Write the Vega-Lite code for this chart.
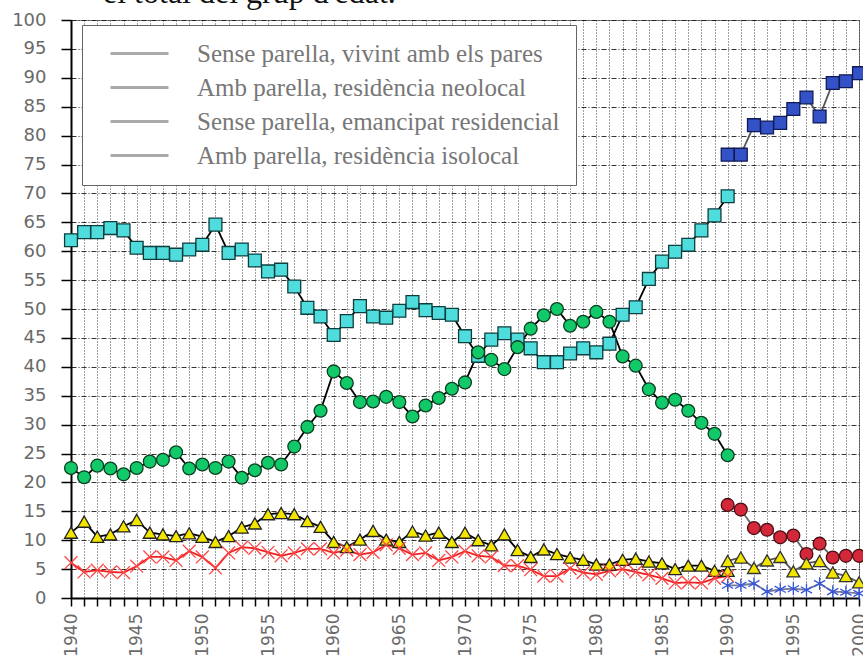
{
  "$schema": "https://vega.github.io/schema/vega-lite/v6.json",
  "width": 788,
  "height": 578,
  "autosize": {"type": "none"},
  "padding": {"left": 71, "top": 20, "right": 4, "bottom": 66},
  "background": "white",
  "title": {"text": "el total del grup d'edat.", "anchor": "start", "frame": "group", "dx": 32, "font": "Liberation Serif", "fontSize": 32, "fontWeight": "normal", "color": "#111", "baseline": "alphabetic", "offset": -24},
  "datasets": {
    "keys": [
      {"k": "A1", "s": "Sense parella, vivint amb els pares"},
      {"k": "A2", "s": "Sense parella, vivint amb els pares"},
      {"k": "B1", "s": "Amb parella, residència neolocal"},
      {"k": "B2", "s": "Amb parella, residència neolocal"},
      {"k": "C1", "s": "Sense parella, emancipat residencial"},
      {"k": "C2", "s": "Sense parella, emancipat residencial"},
      {"k": "D1", "s": "Amb parella, residència isolocal"},
      {"k": "D2", "s": "Amb parella, residència isolocal"}
    ],
    "pts": [
      {"k":"A1","y":1940,"v":61.9},{"k":"A1","y":1941,"v":63.3},{"k":"A1","y":1942,"v":63.3},{"k":"A1","y":1943,"v":64.0},{"k":"A1","y":1944,"v":63.6},
      {"k":"A1","y":1945,"v":60.6},{"k":"A1","y":1946,"v":59.7},{"k":"A1","y":1947,"v":59.7},{"k":"A1","y":1948,"v":59.4},{"k":"A1","y":1949,"v":60.3},
      {"k":"A1","y":1950,"v":61.1},{"k":"A1","y":1951,"v":64.6},{"k":"A1","y":1952,"v":59.7},{"k":"A1","y":1953,"v":60.3},{"k":"A1","y":1954,"v":58.4},
      {"k":"A1","y":1955,"v":56.5},{"k":"A1","y":1956,"v":56.8},{"k":"A1","y":1957,"v":53.9},{"k":"A1","y":1958,"v":50.2},{"k":"A1","y":1959,"v":48.7},
      {"k":"A1","y":1960,"v":45.5},{"k":"A1","y":1961,"v":47.9},{"k":"A1","y":1962,"v":50.5},{"k":"A1","y":1963,"v":48.7},{"k":"A1","y":1964,"v":48.5},
      {"k":"A1","y":1965,"v":49.7},{"k":"A1","y":1966,"v":51.2},{"k":"A1","y":1967,"v":49.8},{"k":"A1","y":1968,"v":49.3},{"k":"A1","y":1969,"v":49.0},
      {"k":"A1","y":1970,"v":45.3},{"k":"A1","y":1971,"v":41.9},{"k":"A1","y":1972,"v":44.7},{"k":"A1","y":1973,"v":45.8},{"k":"A1","y":1974,"v":44.7},
      {"k":"A1","y":1975,"v":43.2},{"k":"A1","y":1976,"v":40.8},{"k":"A1","y":1977,"v":40.8},{"k":"A1","y":1978,"v":42.3},{"k":"A1","y":1979,"v":43.2},
      {"k":"A1","y":1980,"v":42.5},{"k":"A1","y":1981,"v":44.0},{"k":"A1","y":1982,"v":49.0},{"k":"A1","y":1983,"v":50.3},{"k":"A1","y":1984,"v":55.2},
      {"k":"A1","y":1985,"v":58.2},{"k":"A1","y":1986,"v":59.9},{"k":"A1","y":1987,"v":61.1},{"k":"A1","y":1988,"v":63.6},{"k":"A1","y":1989,"v":66.2},
      {"k":"A1","y":1990,"v":69.5},
      {"k":"A2","y":1990,"v":76.7},{"k":"A2","y":1991,"v":76.7},{"k":"A2","y":1992,"v":81.8},{"k":"A2","y":1993,"v":81.4},{"k":"A2","y":1994,"v":82.2},
      {"k":"A2","y":1995,"v":84.6},{"k":"A2","y":1996,"v":86.6},{"k":"A2","y":1997,"v":83.3},{"k":"A2","y":1998,"v":89.1},{"k":"A2","y":1999,"v":89.4},
      {"k":"A2","y":2000,"v":90.8},
      {"k":"B1","y":1940,"v":22.5},{"k":"B1","y":1941,"v":20.9},{"k":"B1","y":1942,"v":22.9},{"k":"B1","y":1943,"v":22.4},{"k":"B1","y":1944,"v":21.4},
      {"k":"B1","y":1945,"v":22.5},{"k":"B1","y":1946,"v":23.6},{"k":"B1","y":1947,"v":23.9},{"k":"B1","y":1948,"v":25.2},{"k":"B1","y":1949,"v":22.4},
      {"k":"B1","y":1950,"v":23.1},{"k":"B1","y":1951,"v":22.5},{"k":"B1","y":1952,"v":23.6},{"k":"B1","y":1953,"v":20.8},{"k":"B1","y":1954,"v":22.1},
      {"k":"B1","y":1955,"v":23.4},{"k":"B1","y":1956,"v":23.1},{"k":"B1","y":1957,"v":26.2},{"k":"B1","y":1958,"v":29.6},{"k":"B1","y":1959,"v":32.4},
      {"k":"B1","y":1960,"v":39.2},{"k":"B1","y":1961,"v":37.2},{"k":"B1","y":1962,"v":33.9},{"k":"B1","y":1963,"v":34.0},{"k":"B1","y":1964,"v":34.8},
      {"k":"B1","y":1965,"v":33.9},{"k":"B1","y":1966,"v":31.4},{"k":"B1","y":1967,"v":33.3},{"k":"B1","y":1968,"v":34.6},{"k":"B1","y":1969,"v":36.2},
      {"k":"B1","y":1970,"v":37.3},{"k":"B1","y":1971,"v":42.5},{"k":"B1","y":1972,"v":41.2},{"k":"B1","y":1973,"v":39.6},{"k":"B1","y":1974,"v":43.4},
      {"k":"B1","y":1975,"v":46.6},{"k":"B1","y":1976,"v":48.9},{"k":"B1","y":1977,"v":50.0},{"k":"B1","y":1978,"v":47.1},{"k":"B1","y":1979,"v":47.8},
      {"k":"B1","y":1980,"v":49.5},{"k":"B1","y":1981,"v":47.8},{"k":"B1","y":1982,"v":41.8},{"k":"B1","y":1983,"v":40.2},{"k":"B1","y":1984,"v":36.1},
      {"k":"B1","y":1985,"v":33.8},{"k":"B1","y":1986,"v":34.3},{"k":"B1","y":1987,"v":32.4},{"k":"B1","y":1988,"v":30.3},{"k":"B1","y":1989,"v":28.4},
      {"k":"B1","y":1990,"v":24.7},
      {"k":"B2","y":1990,"v":16.1},{"k":"B2","y":1991,"v":15.3},{"k":"B2","y":1992,"v":12.1},{"k":"B2","y":1993,"v":11.8},{"k":"B2","y":1994,"v":10.5},
      {"k":"B2","y":1995,"v":10.8},{"k":"B2","y":1996,"v":7.6},{"k":"B2","y":1997,"v":9.4},{"k":"B2","y":1998,"v":7.0},{"k":"B2","y":1999,"v":7.3},
      {"k":"B2","y":2000,"v":7.3},
      {"k":"C1","y":1940,"v":11.3},{"k":"C1","y":1941,"v":13.2},{"k":"C1","y":1942,"v":10.6},{"k":"C1","y":1943,"v":11.0},{"k":"C1","y":1944,"v":12.4},
      {"k":"C1","y":1945,"v":13.5},{"k":"C1","y":1946,"v":11.3},{"k":"C1","y":1947,"v":11.0},{"k":"C1","y":1948,"v":10.7},{"k":"C1","y":1949,"v":11.2},
      {"k":"C1","y":1950,"v":10.6},{"k":"C1","y":1951,"v":9.7},{"k":"C1","y":1952,"v":10.7},{"k":"C1","y":1953,"v":12.2},{"k":"C1","y":1954,"v":12.9},
      {"k":"C1","y":1955,"v":14.5},{"k":"C1","y":1956,"v":14.7},{"k":"C1","y":1957,"v":14.5},{"k":"C1","y":1958,"v":13.3},{"k":"C1","y":1959,"v":12.3},
      {"k":"C1","y":1960,"v":9.7},{"k":"C1","y":1961,"v":8.8},{"k":"C1","y":1962,"v":10.1},{"k":"C1","y":1963,"v":11.6},{"k":"C1","y":1964,"v":10.1},
      {"k":"C1","y":1965,"v":9.7},{"k":"C1","y":1966,"v":11.5},{"k":"C1","y":1967,"v":10.8},{"k":"C1","y":1968,"v":11.3},{"k":"C1","y":1969,"v":9.7},
      {"k":"C1","y":1970,"v":11.3},{"k":"C1","y":1971,"v":10.0},{"k":"C1","y":1972,"v":9.1},{"k":"C1","y":1973,"v":11.0},{"k":"C1","y":1974,"v":8.3},
      {"k":"C1","y":1975,"v":7.1},{"k":"C1","y":1976,"v":8.4},{"k":"C1","y":1977,"v":7.6},{"k":"C1","y":1978,"v":7.0},{"k":"C1","y":1979,"v":6.6},
      {"k":"C1","y":1980,"v":5.8},{"k":"C1","y":1981,"v":5.8},{"k":"C1","y":1982,"v":6.6},{"k":"C1","y":1983,"v":6.8},{"k":"C1","y":1984,"v":6.3},
      {"k":"C1","y":1985,"v":6.0},{"k":"C1","y":1986,"v":5.0},{"k":"C1","y":1987,"v":5.6},{"k":"C1","y":1988,"v":5.6},{"k":"C1","y":1989,"v":4.7},
      {"k":"C1","y":1990,"v":4.7},
      {"k":"C2","y":1990,"v":6.4},{"k":"C2","y":1991,"v":7.0},{"k":"C2","y":1992,"v":5.2},{"k":"C2","y":1993,"v":6.5},{"k":"C2","y":1994,"v":7.1},
      {"k":"C2","y":1995,"v":4.6},{"k":"C2","y":1996,"v":6.0},{"k":"C2","y":1997,"v":6.4},{"k":"C2","y":1998,"v":4.4},{"k":"C2","y":1999,"v":3.8},
      {"k":"C2","y":2000,"v":2.7},
      {"k":"D1","y":1940,"v":6.1},{"k":"D1","y":1941,"v":4.5},{"k":"D1","y":1942,"v":4.8},{"k":"D1","y":1943,"v":4.5},{"k":"D1","y":1944,"v":4.4},
      {"k":"D1","y":1945,"v":5.5},{"k":"D1","y":1946,"v":7.1},{"k":"D1","y":1947,"v":7.1},{"k":"D1","y":1948,"v":6.5},{"k":"D1","y":1949,"v":8.1},
      {"k":"D1","y":1950,"v":7.1},{"k":"D1","y":1951,"v":5.2},{"k":"D1","y":1952,"v":7.8},{"k":"D1","y":1953,"v":8.8},{"k":"D1","y":1954,"v":8.6},
      {"k":"D1","y":1955,"v":7.9},{"k":"D1","y":1956,"v":7.3},{"k":"D1","y":1957,"v":7.8},{"k":"D1","y":1958,"v":8.5},{"k":"D1","y":1959,"v":8.5},
      {"k":"D1","y":1960,"v":7.8},{"k":"D1","y":1961,"v":8.3},{"k":"D1","y":1962,"v":7.5},{"k":"D1","y":1963,"v":7.9},{"k":"D1","y":1964,"v":9.2},
      {"k":"D1","y":1965,"v":8.6},{"k":"D1","y":1966,"v":7.5},{"k":"D1","y":1967,"v":7.8},{"k":"D1","y":1968,"v":6.5},{"k":"D1","y":1969,"v":7.1},
      {"k":"D1","y":1970,"v":8.1},{"k":"D1","y":1971,"v":7.3},{"k":"D1","y":1972,"v":7.1},{"k":"D1","y":1973,"v":5.6},{"k":"D1","y":1974,"v":5.6},
      {"k":"D1","y":1975,"v":4.9},{"k":"D1","y":1976,"v":3.8},{"k":"D1","y":1977,"v":3.8},{"k":"D1","y":1978,"v":5.1},{"k":"D1","y":1979,"v":4.4},
      {"k":"D1","y":1980,"v":4.1},{"k":"D1","y":1981,"v":4.7},{"k":"D1","y":1982,"v":5.0},{"k":"D1","y":1983,"v":4.5},{"k":"D1","y":1984,"v":4.0},
      {"k":"D1","y":1985,"v":3.4},{"k":"D1","y":1986,"v":2.6},{"k":"D1","y":1987,"v":2.7},{"k":"D1","y":1988,"v":2.6},{"k":"D1","y":1989,"v":3.4},
      {"k":"D1","y":1990,"v":3.8},
      {"k":"D2","y":1990,"v":2.2},{"k":"D2","y":1991,"v":2.2},{"k":"D2","y":1992,"v":2.5},{"k":"D2","y":1993,"v":1.1},{"k":"D2","y":1994,"v":1.5},
      {"k":"D2","y":1995,"v":1.6},{"k":"D2","y":1996,"v":1.4},{"k":"D2","y":1997,"v":2.5},{"k":"D2","y":1998,"v":1.1},{"k":"D2","y":1999,"v":1.0},
      {"k":"D2","y":2000,"v":0.8}
    ]
  },
  "data": {"name": "pts"},
  "transform": [
    {"lookup": "k", "from": {"data": {"name": "keys"}, "key": "k", "fields": ["s"]}}
  ],
  "encoding": {
    "x": {"field": "y", "type": "quantitative", "scale": {"domain": [1940, 2000], "nice": false, "zero": false},
      "axis": {"title": null, "tickCount": 60, "labelExpr": "datum.value % 5 === 0 ? datum.value : ''", "format": "d", "labelAngle": 270, "labelAlign": "right", "labelBaseline": "middle", "labelOverlap": false, "labelPadding": 7, "tickSize": 8, "gridDash": [1, 2], "gridColor": "#111", "gridOpacity": 0.8}},
    "y": {"field": "v", "type": "quantitative", "scale": {"domain": [0, 100], "nice": false},
      "axis": {"title": null, "values": [0,5,10,15,20,25,30,35,40,45,50,55,60,65,70,75,80,85,90,95,100], "labelPadding": 15, "tickSize": 10, "gridDash": [5, 2, 1, 2], "gridColor": "#111", "gridOpacity": 0.85, "labelFontSize": 18}}
  },
  "layer": [
    {
      "mark": {"type": "line", "strokeWidth": 1.8},
      "encoding": {
        "detail": {"field": "k"},
        "color": {"field": "k", "type": "nominal", "legend": null,
          "scale": {"domain": ["A1","A2","B1","B2","C1","C2","D1","D2"],
                    "range": ["#000000","#555555","#000000","#666666","#000000","#555555","#ee2020","#777799"]}},
        "strokeDash": {"field": "s", "type": "nominal",
          "scale": {"domain": ["Sense parella, vivint amb els pares","Amb parella, residència neolocal","Sense parella, emancipat residencial","Amb parella, residència isolocal"],
                    "range": [[1,0],[1,0],[1,0],[1,0]]},
          "legend": {"title": null, "orient": "none", "legendX": 11, "legendY": 5, "padding": 16,
            "fillColor": "white", "strokeColor": "#666",
            "symbolType": "M0,0L5.8,0", "symbolSize": 400, "symbolStrokeColor": "#aaaaaa", "symbolStrokeWidth": 3, "symbolFillColor": "#aaaaaa",
            "labelFont": "Liberation Serif", "labelFontSize": 25, "labelColor": "#777777", "labelOffset": 74, "labelLimit": 800, "rowPadding": 8}}
      }
    },
    {
      "mark": {"type": "point", "filled": true, "strokeWidth": 1.3, "opacity": 1, "size": 165},
      "encoding": {
        "shape": {"field": "k", "type": "nominal", "legend": null,
          "scale": {"domain": ["A1","A2","B1","B2","C1","C2","D1","D2"],
                    "range": ["square","square","circle","circle","triangle-up","triangle-up","M-1,-1L1,1M-1,1L1,-1","M0,-1L0,1M-0.87,-0.5L0.87,0.5M-0.87,0.5L0.87,-0.5"]}},
        "fill": {"field": "k", "type": "nominal", "legend": null,
          "scale": {"domain": ["A1","A2","B1","B2","C1","C2","D1","D2"],
                    "range": ["#4fdcdc","#3352c8","#12c96a","#d3283a","#f2e600","#f2e600","#ff3333","#3355dd"]}},
        "stroke": {"field": "k", "type": "nominal", "legend": null,
          "scale": {"domain": ["A1","A2","B1","B2","C1","C2","D1","D2"],
                    "range": ["#0d3d3d","#101a55","#0b3d1f","#4a0d12","#222222","#333333","#ff4444","#3355dd"]}}
      }
    }
  ],
  "config": {
    "view": {"stroke": "#888888", "strokeWidth": 1},
    "axis": {"domainColor": "#000000", "domainWidth": 2, "tickColor": "#000000", "tickWidth": 1.5,
      "labelFont": "DejaVu Sans", "labelFontSize": 17, "labelColor": "#6a6a6a", "grid": true, "gridWidth": 1}
  }
}
